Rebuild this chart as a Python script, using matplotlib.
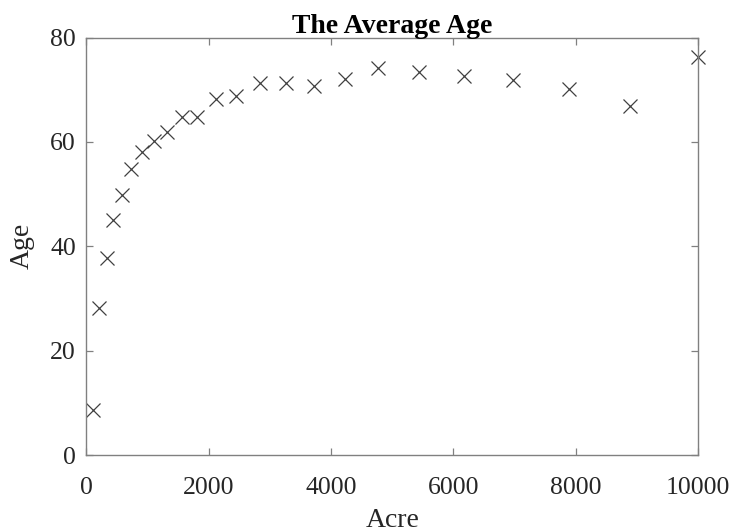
import matplotlib
matplotlib.use("Agg")
import matplotlib.pyplot as plt

# acreage vs average age
acre = [106, 205, 330, 438, 585, 728, 903, 1104, 1321, 1567, 1802, 2113,
        2440, 2837, 3258, 3720, 4227, 4767, 5442, 6178, 6980, 7886, 8888, 10000]
age = [8.6, 28.1, 37.7, 45.0, 49.8, 54.8, 58.1, 60.2, 61.8, 64.8, 64.8, 68.2,
       68.8, 71.2, 71.2, 70.8, 72.0, 74.1, 73.3, 72.6, 71.8, 70.1, 66.9, 76.3]

xticks = [0, 2000, 4000, 6000, 8000, 10000]
yticks = [0, 20, 40, 60, 80]

plt.rcParams["font.family"] = ["Liberation Serif", "DejaVu Serif"]

fig = plt.figure(figsize=(7.38, 5.32), dpi=100)
ax = fig.add_axes([0.1172, 0.1447, 0.8286, 0.7848])

ax.plot(acre, age, linestyle="none", marker="x", markersize=10,
        markeredgewidth=0.9, color="#404040", clip_on=False)

ax.set_xlim(0, 10000)
ax.set_ylim(0, 80)
ax.set_xticks(xticks)
ax.set_yticks(yticks)
ax.tick_params(direction="in", length=5, width=0.9, color="#808080",
               labelsize=18.5, top=True, right=True, labelcolor="#262626")
ax.tick_params(axis="x", pad=16)
ax.tick_params(axis="y", pad=7.5)
for s in ax.spines.values():
    s.set_color("#808080")
    s.set_linewidth(1.0)

ax.set_xlabel("Acre", fontsize=20, color="#262626", labelpad=6)
ax.set_ylabel("Age", fontsize=20, color="#262626", labelpad=11)
ax.set_title("The Average Age", fontsize=20, fontweight="bold", pad=3)

fig.savefig("out.png", dpi=100)
